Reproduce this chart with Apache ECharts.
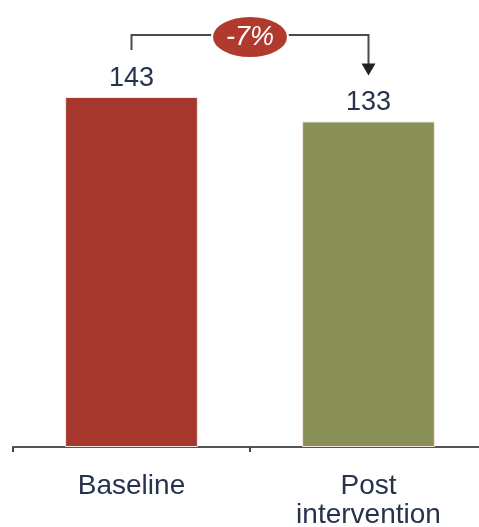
<!DOCTYPE html>
<html>
<head>
<meta charset="utf-8">
<script src="https://cdn.jsdelivr.net/npm/echarts@6/dist/echarts.min.js"></script>
<style>
html,body{margin:0;padding:0;background:#fff;}
#chart{width:479px;height:527px;}
</style>
</head>
<body>
<div id="chart"></div>
<script>
var categories = ['Baseline', 'Post\nintervention'];
var values = [143, 133];
var barColors = ['#A5372C', '#889056'];

var chart = echarts.init(document.getElementById('chart'));
var font = 'Liberation Sans, Arial, sans-serif';
var textColor = '#27324D';

chart.setOption({
  animation: false,
  grid: { left: 13, width: 474, top: 55.4, bottom: 80, outerBoundsMode: 'none', containLabel: false },
  xAxis: {
    type: 'category',
    data: categories,
    axisLine: { lineStyle: { color: '#555', width: 2 } },
    axisTick: { show: true, length: 5, lineStyle: { color: '#444', width: 2 } },
    axisLabel: { color: textColor, fontFamily: font, fontSize: 28, margin: 25, lineHeight: 29 }
  },
  yAxis: {
    type: 'value', min: 0, max: 160,
    show: false, splitLine: { show: false }
  },
  series: [{
    type: 'bar',
    barCategoryGap: '44%',
    data: values.map(function (v, i) {
      return { value: v, itemStyle: { color: barColors[i] } };
    }),
    itemStyle: { borderColor: '#f3e6e0', borderWidth: 1 },
    label: {
      show: true, position: 'top', distance: 5,
      color: textColor, fontFamily: font, fontSize: 27
    }
  }]
});

// change annotation computed from the data
var pct = Math.round((values[1] - values[0]) / values[0] * 100);
var p0 = chart.convertToPixel({ gridIndex: 0 }, [0, values[0]]);
var p1 = chart.convertToPixel({ gridIndex: 0 }, [1, values[1]]);
var lineY = 35;
var x0 = p0[0], x1 = p1[0];
var y0 = p0[1] - 47, y1 = p1[1] - 46;
var midX = (x0 + x1) / 2;
var lineStyle = { stroke: '#4A4A4A', lineWidth: 2, fill: null };
chart.setOption({
  graphic: [
    { type: 'polyline', shape: { points: [[x0, y0], [x0, lineY], [x1, lineY], [x1, y1 - 11]] }, style: lineStyle, z: 10 },
    { type: 'polygon', shape: { points: [[x1 - 7, y1 - 12], [x1 + 7, y1 - 12], [x1, y1]] }, style: { fill: '#222' }, z: 10 },
    { type: 'ellipse', shape: { cx: midX, cy: 37, rx: 38, ry: 21 }, style: { fill: '#B03A2E', stroke: '#fff', lineWidth: 2 }, z: 11 },
    { type: 'text', x: midX, y: 37, style: { text: (pct > 0 ? '+' : '') + pct + '%', fill: '#fff', font: 'italic 27px Liberation Sans, Arial, sans-serif', textAlign: 'center', textVerticalAlign: 'middle' }, z: 12 }
  ]
});
</script>
</body>
</html>
